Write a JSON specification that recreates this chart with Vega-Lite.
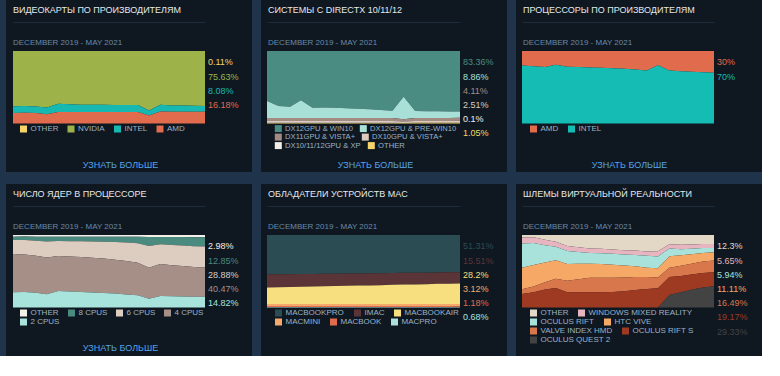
{
  "$schema": "https://vega.github.io/schema/vega-lite/v6.json",
  "background": "#1f344a",
  "padding": {"left": 6, "top": 0, "right": 0, "bottom": 0},
  "autosize": {"type": "pad"},
  "config": {
    "font": "Liberation Sans",
    "view": {"fill": "#0f1821", "stroke": null},
    "title": {"anchor": "start", "frame": "group", "orient": "top", "offset": -47, "dx": 7, "fontSize": 9, "fontWeight": "normal", "color": "#e4e8ec", "subtitleFontSize": 8, "subtitleColor": "#6b8aa8", "subtitlePadding": 24, "subtitleFont": "Liberation Sans"},
    "legend": {"orient": "none", "legendX": 13.5, "legendY": 125, "padding": 0, "direction": "horizontal", "symbolType": "square", "symbolSize": 49, "symbolStrokeWidth": 0, "symbolOpacity": 1, "labelFontSize": 8, "labelColor": "#9db2c6", "labelOffset": 3, "columnPadding": 9, "rowPadding": 1, "labelFont": "Liberation Sans"},
    "text": {"fontSize": 9}
  },
  "datasets": {
    "gpu": [
      {"m": "2019-12", "OTHER": 0.001, "NVIDIA": 0.762, "INTEL": 0.091, "AMD": 0.146},
      {"m": "2020-01", "OTHER": 0.001, "NVIDIA": 0.757, "INTEL": 0.094, "AMD": 0.148},
      {"m": "2020-02", "OTHER": 0.001, "NVIDIA": 0.764, "INTEL": 0.090, "AMD": 0.145},
      {"m": "2020-03", "OTHER": 0.001, "NVIDIA": 0.780, "INTEL": 0.091, "AMD": 0.128},
      {"m": "2020-04", "OTHER": 0.001, "NVIDIA": 0.727, "INTEL": 0.112, "AMD": 0.160},
      {"m": "2020-05", "OTHER": 0.001, "NVIDIA": 0.734, "INTEL": 0.105, "AMD": 0.160},
      {"m": "2020-06", "OTHER": 0.001, "NVIDIA": 0.739, "INTEL": 0.100, "AMD": 0.160},
      {"m": "2020-07", "OTHER": 0.001, "NVIDIA": 0.741, "INTEL": 0.098, "AMD": 0.160},
      {"m": "2020-08", "OTHER": 0.001, "NVIDIA": 0.742, "INTEL": 0.097, "AMD": 0.160},
      {"m": "2020-09", "OTHER": 0.001, "NVIDIA": 0.743, "INTEL": 0.096, "AMD": 0.160},
      {"m": "2020-10", "OTHER": 0.001, "NVIDIA": 0.743, "INTEL": 0.096, "AMD": 0.160},
      {"m": "2020-11", "OTHER": 0.001, "NVIDIA": 0.743, "INTEL": 0.096, "AMD": 0.160},
      {"m": "2020-12", "OTHER": 0.001, "NVIDIA": 0.821, "INTEL": 0.068, "AMD": 0.110},
      {"m": "2021-01", "OTHER": 0.001, "NVIDIA": 0.741, "INTEL": 0.094, "AMD": 0.164},
      {"m": "2021-02", "OTHER": 0.001, "NVIDIA": 0.749, "INTEL": 0.088, "AMD": 0.162},
      {"m": "2021-03", "OTHER": 0.001, "NVIDIA": 0.752, "INTEL": 0.085, "AMD": 0.162},
      {"m": "2021-04", "OTHER": 0.001, "NVIDIA": 0.755, "INTEL": 0.082, "AMD": 0.162},
      {"m": "2021-05", "OTHER": 0.0011, "NVIDIA": 0.7563, "INTEL": 0.0808, "AMD": 0.1618}
    ],
    "dx": [
      {"m": "2019-12", "DX12GPU & WIN10": 0.689, "DX12GPU & PRE-WIN10": 0.235, "DX11GPU & VISTA+": 0.042, "DX10GPU & VISTA+": 0.024, "DX10/11/12GPU & XP": 0.002, "OTHER": 0.008},
      {"m": "2020-01", "DX12GPU & WIN10": 0.759, "DX12GPU & PRE-WIN10": 0.165, "DX11GPU & VISTA+": 0.042, "DX10GPU & VISTA+": 0.024, "DX10/11/12GPU & XP": 0.002, "OTHER": 0.008},
      {"m": "2020-02", "DX12GPU & WIN10": 0.769, "DX12GPU & PRE-WIN10": 0.155, "DX11GPU & VISTA+": 0.042, "DX10GPU & VISTA+": 0.024, "DX10/11/12GPU & XP": 0.002, "OTHER": 0.008},
      {"m": "2020-03", "DX12GPU & WIN10": 0.679, "DX12GPU & PRE-WIN10": 0.245, "DX11GPU & VISTA+": 0.042, "DX10GPU & VISTA+": 0.024, "DX10/11/12GPU & XP": 0.002, "OTHER": 0.008},
      {"m": "2020-04", "DX12GPU & WIN10": 0.782, "DX12GPU & PRE-WIN10": 0.142, "DX11GPU & VISTA+": 0.042, "DX10GPU & VISTA+": 0.024, "DX10/11/12GPU & XP": 0.002, "OTHER": 0.008},
      {"m": "2020-05", "DX12GPU & WIN10": 0.779, "DX12GPU & PRE-WIN10": 0.145, "DX11GPU & VISTA+": 0.042, "DX10GPU & VISTA+": 0.024, "DX10/11/12GPU & XP": 0.002, "OTHER": 0.008},
      {"m": "2020-06", "DX12GPU & WIN10": 0.784, "DX12GPU & PRE-WIN10": 0.140, "DX11GPU & VISTA+": 0.042, "DX10GPU & VISTA+": 0.024, "DX10/11/12GPU & XP": 0.002, "OTHER": 0.008},
      {"m": "2020-07", "DX12GPU & WIN10": 0.789, "DX12GPU & PRE-WIN10": 0.135, "DX11GPU & VISTA+": 0.042, "DX10GPU & VISTA+": 0.024, "DX10/11/12GPU & XP": 0.002, "OTHER": 0.008},
      {"m": "2020-08", "DX12GPU & WIN10": 0.796, "DX12GPU & PRE-WIN10": 0.128, "DX11GPU & VISTA+": 0.042, "DX10GPU & VISTA+": 0.024, "DX10/11/12GPU & XP": 0.002, "OTHER": 0.008},
      {"m": "2020-09", "DX12GPU & WIN10": 0.804, "DX12GPU & PRE-WIN10": 0.120, "DX11GPU & VISTA+": 0.042, "DX10GPU & VISTA+": 0.024, "DX10/11/12GPU & XP": 0.002, "OTHER": 0.008},
      {"m": "2020-10", "DX12GPU & WIN10": 0.814, "DX12GPU & PRE-WIN10": 0.110, "DX11GPU & VISTA+": 0.042, "DX10GPU & VISTA+": 0.024, "DX10/11/12GPU & XP": 0.002, "OTHER": 0.008},
      {"m": "2020-11", "DX12GPU & WIN10": 0.824, "DX12GPU & PRE-WIN10": 0.100, "DX11GPU & VISTA+": 0.042, "DX10GPU & VISTA+": 0.024, "DX10/11/12GPU & XP": 0.002, "OTHER": 0.008},
      {"m": "2020-12", "DX12GPU & WIN10": 0.630, "DX12GPU & PRE-WIN10": 0.310, "DX11GPU & VISTA+": 0.033, "DX10GPU & VISTA+": 0.019, "DX10/11/12GPU & XP": 0.001, "OTHER": 0.007},
      {"m": "2021-01", "DX12GPU & WIN10": 0.828, "DX12GPU & PRE-WIN10": 0.095, "DX11GPU & VISTA+": 0.041, "DX10GPU & VISTA+": 0.025, "DX10/11/12GPU & XP": 0.001, "OTHER": 0.010},
      {"m": "2021-02", "DX12GPU & WIN10": 0.830, "DX12GPU & PRE-WIN10": 0.093, "DX11GPU & VISTA+": 0.041, "DX10GPU & VISTA+": 0.025, "DX10/11/12GPU & XP": 0.001, "OTHER": 0.010},
      {"m": "2021-03", "DX12GPU & WIN10": 0.832, "DX12GPU & PRE-WIN10": 0.091, "DX11GPU & VISTA+": 0.041, "DX10GPU & VISTA+": 0.025, "DX10/11/12GPU & XP": 0.001, "OTHER": 0.010},
      {"m": "2021-04", "DX12GPU & WIN10": 0.833, "DX12GPU & PRE-WIN10": 0.090, "DX11GPU & VISTA+": 0.041, "DX10GPU & VISTA+": 0.025, "DX10/11/12GPU & XP": 0.001, "OTHER": 0.010},
      {"m": "2021-05", "DX12GPU & WIN10": 0.8336, "DX12GPU & PRE-WIN10": 0.0886, "DX11GPU & VISTA+": 0.0411, "DX10GPU & VISTA+": 0.0251, "DX10/11/12GPU & XP": 0.001, "OTHER": 0.0105}
    ],
    "cpu": [
      {"m": "2019-12", "AMD": 0.200, "INTEL": 0.800},
      {"m": "2020-01", "AMD": 0.212, "INTEL": 0.788},
      {"m": "2020-02", "AMD": 0.222, "INTEL": 0.778},
      {"m": "2020-03", "AMD": 0.190, "INTEL": 0.810},
      {"m": "2020-04", "AMD": 0.218, "INTEL": 0.782},
      {"m": "2020-05", "AMD": 0.221, "INTEL": 0.779},
      {"m": "2020-06", "AMD": 0.226, "INTEL": 0.774},
      {"m": "2020-07", "AMD": 0.231, "INTEL": 0.769},
      {"m": "2020-08", "AMD": 0.237, "INTEL": 0.763},
      {"m": "2020-09", "AMD": 0.246, "INTEL": 0.754},
      {"m": "2020-10", "AMD": 0.255, "INTEL": 0.745},
      {"m": "2020-11", "AMD": 0.270, "INTEL": 0.730},
      {"m": "2020-12", "AMD": 0.195, "INTEL": 0.805},
      {"m": "2021-01", "AMD": 0.270, "INTEL": 0.730},
      {"m": "2021-02", "AMD": 0.280, "INTEL": 0.720},
      {"m": "2021-03", "AMD": 0.285, "INTEL": 0.715},
      {"m": "2021-04", "AMD": 0.292, "INTEL": 0.708},
      {"m": "2021-05", "AMD": 0.30, "INTEL": 0.70}
    ],
    "cores": [
      {"m": "2019-12", "OTHER": 0.023, "8 CPUS": 0.046, "6 CPUS": 0.194, "4 CPUS": 0.525, "2 CPUS": 0.212},
      {"m": "2020-01", "OTHER": 0.022, "8 CPUS": 0.048, "6 CPUS": 0.200, "4 CPUS": 0.515, "2 CPUS": 0.215},
      {"m": "2020-02", "OTHER": 0.024, "8 CPUS": 0.054, "6 CPUS": 0.208, "4 CPUS": 0.509, "2 CPUS": 0.205},
      {"m": "2020-03", "OTHER": 0.024, "8 CPUS": 0.065, "6 CPUS": 0.220, "4 CPUS": 0.507, "2 CPUS": 0.184},
      {"m": "2020-04", "OTHER": 0.023, "8 CPUS": 0.059, "6 CPUS": 0.208, "4 CPUS": 0.484, "2 CPUS": 0.226},
      {"m": "2020-05", "OTHER": 0.023, "8 CPUS": 0.062, "6 CPUS": 0.210, "4 CPUS": 0.485, "2 CPUS": 0.220},
      {"m": "2020-06", "OTHER": 0.023, "8 CPUS": 0.063, "6 CPUS": 0.218, "4 CPUS": 0.483, "2 CPUS": 0.213},
      {"m": "2020-07", "OTHER": 0.023, "8 CPUS": 0.065, "6 CPUS": 0.225, "4 CPUS": 0.480, "2 CPUS": 0.207},
      {"m": "2020-08", "OTHER": 0.023, "8 CPUS": 0.069, "6 CPUS": 0.233, "4 CPUS": 0.475, "2 CPUS": 0.200},
      {"m": "2020-09", "OTHER": 0.023, "8 CPUS": 0.075, "6 CPUS": 0.242, "4 CPUS": 0.468, "2 CPUS": 0.192},
      {"m": "2020-10", "OTHER": 0.024, "8 CPUS": 0.080, "6 CPUS": 0.255, "4 CPUS": 0.460, "2 CPUS": 0.181},
      {"m": "2020-11", "OTHER": 0.024, "8 CPUS": 0.090, "6 CPUS": 0.268, "4 CPUS": 0.448, "2 CPUS": 0.170},
      {"m": "2020-12", "OTHER": 0.027, "8 CPUS": 0.125, "6 CPUS": 0.300, "4 CPUS": 0.428, "2 CPUS": 0.120},
      {"m": "2021-01", "OTHER": 0.027, "8 CPUS": 0.099, "6 CPUS": 0.275, "4 CPUS": 0.439, "2 CPUS": 0.160},
      {"m": "2021-02", "OTHER": 0.027, "8 CPUS": 0.110, "6 CPUS": 0.279, "4 CPUS": 0.428, "2 CPUS": 0.156},
      {"m": "2021-03", "OTHER": 0.028, "8 CPUS": 0.118, "6 CPUS": 0.283, "4 CPUS": 0.418, "2 CPUS": 0.153},
      {"m": "2021-04", "OTHER": 0.030, "8 CPUS": 0.124, "6 CPUS": 0.286, "4 CPUS": 0.410, "2 CPUS": 0.150},
      {"m": "2021-05", "OTHER": 0.0298, "8 CPUS": 0.1285, "6 CPUS": 0.2888, "4 CPUS": 0.4047, "2 CPUS": 0.1482}
    ],
    "mac": [
      {"m": "2019-12", "MACBOOKPRO": 0.543, "IMAC": 0.180, "MACBOOKAIR": 0.230, "MACMINI": 0.026, "MACBOOK": 0.015, "MACPRO": 0.006},
      {"m": "2020-01", "MACBOOKPRO": 0.541, "IMAC": 0.179, "MACBOOKAIR": 0.233, "MACMINI": 0.026, "MACBOOK": 0.015, "MACPRO": 0.006},
      {"m": "2020-02", "MACBOOKPRO": 0.540, "IMAC": 0.177, "MACBOOKAIR": 0.236, "MACMINI": 0.027, "MACBOOK": 0.014, "MACPRO": 0.006},
      {"m": "2020-03", "MACBOOKPRO": 0.537, "IMAC": 0.176, "MACBOOKAIR": 0.240, "MACMINI": 0.027, "MACBOOK": 0.014, "MACPRO": 0.006},
      {"m": "2020-04", "MACBOOKPRO": 0.537, "IMAC": 0.174, "MACBOOKAIR": 0.242, "MACMINI": 0.027, "MACBOOK": 0.014, "MACPRO": 0.006},
      {"m": "2020-05", "MACBOOKPRO": 0.534, "IMAC": 0.173, "MACBOOKAIR": 0.245, "MACMINI": 0.028, "MACBOOK": 0.014, "MACPRO": 0.006},
      {"m": "2020-06", "MACBOOKPRO": 0.533, "IMAC": 0.171, "MACBOOKAIR": 0.248, "MACMINI": 0.028, "MACBOOK": 0.014, "MACPRO": 0.006},
      {"m": "2020-07", "MACBOOKPRO": 0.531, "IMAC": 0.170, "MACBOOKAIR": 0.251, "MACMINI": 0.028, "MACBOOK": 0.014, "MACPRO": 0.006},
      {"m": "2020-08", "MACBOOKPRO": 0.530, "IMAC": 0.168, "MACBOOKAIR": 0.254, "MACMINI": 0.029, "MACBOOK": 0.013, "MACPRO": 0.006},
      {"m": "2020-09", "MACBOOKPRO": 0.528, "IMAC": 0.167, "MACBOOKAIR": 0.257, "MACMINI": 0.029, "MACBOOK": 0.013, "MACPRO": 0.006},
      {"m": "2020-10", "MACBOOKPRO": 0.527, "IMAC": 0.165, "MACBOOKAIR": 0.260, "MACMINI": 0.029, "MACBOOK": 0.013, "MACPRO": 0.006},
      {"m": "2020-11", "MACBOOKPRO": 0.523, "IMAC": 0.164, "MACBOOKAIR": 0.263, "MACMINI": 0.030, "MACBOOK": 0.013, "MACPRO": 0.007},
      {"m": "2020-12", "MACBOOKPRO": 0.522, "IMAC": 0.162, "MACBOOKAIR": 0.266, "MACMINI": 0.030, "MACBOOK": 0.013, "MACPRO": 0.007},
      {"m": "2021-01", "MACBOOKPRO": 0.522, "IMAC": 0.160, "MACBOOKAIR": 0.269, "MACMINI": 0.030, "MACBOOK": 0.012, "MACPRO": 0.007},
      {"m": "2021-02", "MACBOOKPRO": 0.519, "IMAC": 0.159, "MACBOOKAIR": 0.272, "MACMINI": 0.031, "MACBOOK": 0.012, "MACPRO": 0.007},
      {"m": "2021-03", "MACBOOKPRO": 0.516, "IMAC": 0.158, "MACBOOKAIR": 0.276, "MACMINI": 0.031, "MACBOOK": 0.012, "MACPRO": 0.007},
      {"m": "2021-04", "MACBOOKPRO": 0.515, "IMAC": 0.156, "MACBOOKAIR": 0.279, "MACMINI": 0.031, "MACBOOK": 0.012, "MACPRO": 0.007},
      {"m": "2021-05", "MACBOOKPRO": 0.5131, "IMAC": 0.1551, "MACBOOKAIR": 0.282, "MACMINI": 0.0312, "MACBOOK": 0.0118, "MACPRO": 0.0068}
    ],
    "vr": [
      {"m": "2019-12", "OTHER": 0.033, "WINDOWS MIXED REALITY": 0.083, "OCULUS RIFT": 0.335, "HTC VIVE": 0.298, "VALVE INDEX HMD": 0.065, "OCULUS RIFT S": 0.186, "OCULUS QUEST 2": 0},
      {"m": "2020-01", "OTHER": 0.032, "WINDOWS MIXED REALITY": 0.078, "OCULUS RIFT": 0.305, "HTC VIVE": 0.295, "VALVE INDEX HMD": 0.080, "OCULUS RIFT S": 0.210, "OCULUS QUEST 2": 0},
      {"m": "2020-02", "OTHER": 0.065, "WINDOWS MIXED REALITY": 0.075, "OCULUS RIFT": 0.240, "HTC VIVE": 0.270, "VALVE INDEX HMD": 0.100, "OCULUS RIFT S": 0.250, "OCULUS QUEST 2": 0},
      {"m": "2020-03", "OTHER": 0.093, "WINDOWS MIXED REALITY": 0.070, "OCULUS RIFT": 0.186, "HTC VIVE": 0.256, "VALVE INDEX HMD": 0.125, "OCULUS RIFT S": 0.270, "OCULUS QUEST 2": 0},
      {"m": "2020-04", "OTHER": 0.150, "WINDOWS MIXED REALITY": 0.070, "OCULUS RIFT": 0.180, "HTC VIVE": 0.230, "VALVE INDEX HMD": 0.160, "OCULUS RIFT S": 0.210, "OCULUS QUEST 2": 0},
      {"m": "2020-05", "OTHER": 0.170, "WINDOWS MIXED REALITY": 0.066, "OCULUS RIFT": 0.160, "HTC VIVE": 0.215, "VALVE INDEX HMD": 0.180, "OCULUS RIFT S": 0.209, "OCULUS QUEST 2": 0},
      {"m": "2020-06", "OTHER": 0.186, "WINDOWS MIXED REALITY": 0.061, "OCULUS RIFT": 0.148, "HTC VIVE": 0.196, "VALVE INDEX HMD": 0.200, "OCULUS RIFT S": 0.209, "OCULUS QUEST 2": 0},
      {"m": "2020-07", "OTHER": 0.190, "WINDOWS MIXED REALITY": 0.060, "OCULUS RIFT": 0.150, "HTC VIVE": 0.190, "VALVE INDEX HMD": 0.200, "OCULUS RIFT S": 0.210, "OCULUS QUEST 2": 0},
      {"m": "2020-08", "OTHER": 0.200, "WINDOWS MIXED REALITY": 0.060, "OCULUS RIFT": 0.150, "HTC VIVE": 0.180, "VALVE INDEX HMD": 0.195, "OCULUS RIFT S": 0.215, "OCULUS QUEST 2": 0},
      {"m": "2020-09", "OTHER": 0.210, "WINDOWS MIXED REALITY": 0.060, "OCULUS RIFT": 0.150, "HTC VIVE": 0.165, "VALVE INDEX HMD": 0.190, "OCULUS RIFT S": 0.225, "OCULUS QUEST 2": 0},
      {"m": "2020-10", "OTHER": 0.215, "WINDOWS MIXED REALITY": 0.060, "OCULUS RIFT": 0.155, "HTC VIVE": 0.150, "VALVE INDEX HMD": 0.180, "OCULUS RIFT S": 0.240, "OCULUS QUEST 2": 0},
      {"m": "2020-11", "OTHER": 0.226, "WINDOWS MIXED REALITY": 0.060, "OCULUS RIFT": 0.165, "HTC VIVE": 0.130, "VALVE INDEX HMD": 0.163, "OCULUS RIFT S": 0.256, "OCULUS QUEST 2": 0},
      {"m": "2020-12", "OTHER": 0.225, "WINDOWS MIXED REALITY": 0.070, "OCULUS RIFT": 0.165, "HTC VIVE": 0.125, "VALVE INDEX HMD": 0.150, "OCULUS RIFT S": 0.265, "OCULUS QUEST 2": 0},
      {"m": "2021-01", "OTHER": 0.126, "WINDOWS MIXED REALITY": 0.060, "OCULUS RIFT": 0.107, "HTC VIVE": 0.158, "VALVE INDEX HMD": 0.130, "OCULUS RIFT S": 0.247, "OCULUS QUEST 2": 0.172},
      {"m": "2021-02", "OTHER": 0.135, "WINDOWS MIXED REALITY": 0.060, "OCULUS RIFT": 0.085, "HTC VIVE": 0.145, "VALVE INDEX HMD": 0.140, "OCULUS RIFT S": 0.225, "OCULUS QUEST 2": 0.210},
      {"m": "2021-03", "OTHER": 0.132, "WINDOWS MIXED REALITY": 0.058, "OCULUS RIFT": 0.075, "HTC VIVE": 0.130, "VALVE INDEX HMD": 0.150, "OCULUS RIFT S": 0.210, "OCULUS QUEST 2": 0.245},
      {"m": "2021-04", "OTHER": 0.124, "WINDOWS MIXED REALITY": 0.057, "OCULUS RIFT": 0.066, "HTC VIVE": 0.120, "VALVE INDEX HMD": 0.158, "OCULUS RIFT S": 0.200, "OCULUS QUEST 2": 0.275},
      {"m": "2021-05", "OTHER": 0.123, "WINDOWS MIXED REALITY": 0.0565, "OCULUS RIFT": 0.0594, "HTC VIVE": 0.1111, "VALVE INDEX HMD": 0.1649, "OCULUS RIFT S": 0.1917, "OCULUS QUEST 2": 0.2933}
    ]
  },
  "columns": 3,
  "spacing": {"row": 12, "column": 9},
  "bounds": "flush",
  "resolve": {"scale": {"color": "independent", "x": "independent", "y": "independent"}, "legend": {"color": "independent"}},
  "concat": [
    {
      "width": 246, "height": 172,
      "view": {"fill": "#0f1821", "stroke": null},
      "title": {"text": "ВИДЕОКАРТЫ ПО ПРОИЗВОДИТЕЛЯМ", "subtitle": "DECEMBER 2019 - MAY 2021"},
      "data": {"name": "gpu"},
      "transform": [
        {"fold": ["OTHER", "NVIDIA", "INTEL", "AMD"], "as": ["key", "value"]},
        {"calculate": "indexof(['OTHER','NVIDIA','INTEL','AMD'], datum.key)", "as": "k"}
      ],
      "resolve": {"scale": {"y": "independent"}, "axis": {"y": "independent"}},
      "layer": [
        {
          "mark": {"type": "area", "interpolate": "linear"},
          "encoding": {
            "x": {"field": "m", "type": "temporal", "scale": {"range": [7, 199], "nice": false},
                  "axis": {"title": "УЗНАТЬ БОЛЬШЕ", "labels": false, "ticks": false, "domain": false, "grid": false, "titleX": 114, "titleY": -8, "titleAlign": "center", "titleBaseline": "middle", "titleColor": "#56a3e6", "titleFontSize": 9, "titleFontWeight": "normal", "titleFont": "Liberation Sans"}},
            "y": {"field": "value", "type": "quantitative", "stack": "normalize", "scale": {"domain": [0, 1.4069], "range": [123.5, 21.5], "nice": false},
                  "axis": {"values": [1.4069], "grid": true, "gridColor": "#1d2c3b", "labels": false, "ticks": false, "domain": false, "title": null}},
            "color": {"field": "key", "type": "nominal", "scale": {"domain": ["OTHER", "NVIDIA", "INTEL", "AMD"], "range": ["#f6d46a", "#9db34a", "#17b8b1", "#e06b4d"]}, "legend": {"title": null, "columnPadding": 8.5}},
            "order": {"field": "k", "sort": "descending"}
          }
        },
        {
          "transform": [{"joinaggregate": [{"op": "max", "field": "m", "as": "mx"}]}, {"filter": "time(datum.m) == time(datum.mx)"}],
          "mark": {"type": "text", "align": "left", "baseline": "middle", "dx": 3, "fontSize": 9},
          "encoding": {
            "x": {"field": "m", "type": "temporal"},
            "y": {"field": "key", "type": "nominal", "scale": {"domain": ["OTHER", "NVIDIA", "INTEL", "AMD"], "range": [62.3, 104.9], "padding": 0}, "axis": null},
            "text": {"field": "value", "format": ".2~%"},
            "color": {"field": "key", "type": "nominal", "scale": {"domain": ["OTHER", "NVIDIA", "INTEL", "AMD"], "range": ["#f6d46a", "#9db34a", "#17b8b1", "#e06b4d"]}, "legend": null}
          }
        }
      ]
    },
    {
      "width": 246, "height": 172,
      "view": {"fill": "#0f1821", "stroke": null},
      "title": {"text": "СИСТЕМЫ С DIRECTX 10/11/12", "subtitle": "DECEMBER 2019 - MAY 2021"},
      "data": {"name": "dx"},
      "transform": [
        {"fold": ["DX12GPU & WIN10", "DX12GPU & PRE-WIN10", "DX11GPU & VISTA+", "DX10GPU & VISTA+", "DX10/11/12GPU & XP", "OTHER"], "as": ["key", "value"]},
        {"calculate": "indexof(['DX12GPU & WIN10','DX12GPU & PRE-WIN10','DX11GPU & VISTA+','DX10GPU & VISTA+','DX10/11/12GPU & XP','OTHER'], datum.key)", "as": "k"}
      ],
      "resolve": {"scale": {"y": "independent", "color": "independent"}, "axis": {"y": "independent"}, "legend": {"color": "independent"}},
      "layer": [
        {
          "mark": {"type": "area", "interpolate": "linear"},
          "encoding": {
            "x": {"field": "m", "type": "temporal", "scale": {"range": [6, 199], "nice": false},
                  "axis": {"title": "УЗНАТЬ БОЛЬШЕ", "labels": false, "ticks": false, "domain": false, "grid": false, "titleX": 114, "titleY": -8, "titleAlign": "center", "titleBaseline": "middle", "titleColor": "#56a3e6", "titleFontSize": 9, "titleFontWeight": "normal", "titleFont": "Liberation Sans"}},
            "y": {"field": "value", "type": "quantitative", "stack": "normalize", "scale": {"domain": [0, 1.4069], "range": [123.5, 21.5], "nice": false},
                  "axis": {"values": [1.4069], "grid": true, "gridColor": "#1d2c3b", "labels": false, "ticks": false, "domain": false, "title": null}},
            "color": {"field": "key", "type": "nominal", "scale": {"domain": ["DX12GPU & WIN10", "DX12GPU & PRE-WIN10", "DX11GPU & VISTA+", "DX10GPU & VISTA+", "DX10/11/12GPU & XP", "OTHER"], "range": ["#4b8c82", "#a8e0d8", "#a38b84", "#dccbbf", "#f3eee8", "#f6d46a"]}, "legend": null},
            "order": {"field": "k", "sort": "descending"}
          }
        },
        {
          "transform": [{"joinaggregate": [{"op": "max", "field": "m", "as": "mx"}]}, {"filter": "time(datum.m) == time(datum.mx)"}],
          "mark": {"type": "text", "align": "left", "baseline": "middle", "dx": 3, "fontSize": 9},
          "encoding": {
            "x": {"field": "m", "type": "temporal"},
            "y": {"field": "key", "type": "nominal", "scale": {"domain": ["DX12GPU & WIN10", "DX12GPU & PRE-WIN10", "DX11GPU & VISTA+", "DX10GPU & VISTA+", "DX10/11/12GPU & XP", "OTHER"], "range": [62.3, 133.3], "padding": 0}, "axis": null},
            "text": {"field": "value", "format": ".2~%"},
            "color": {"field": "key", "type": "nominal", "scale": {"domain": ["DX12GPU & WIN10", "DX12GPU & PRE-WIN10", "DX11GPU & VISTA+", "DX10GPU & VISTA+", "DX10/11/12GPU & XP", "OTHER"], "range": ["#4b8c82", "#a8e0d8", "#a38b84", "#dccbbf", "#f3eee8", "#f6d46a"]}, "legend": null}
          }
        },
        {
          "transform": [{"filter": "false"}],
          "mark": {"type": "area"},
          "encoding": {"x": {"field": "m", "type": "temporal"}, "y": {"field": "value", "type": "quantitative", "axis": null}, "color": {"field": "key", "type": "nominal", "scale": {"domain": ["DX12GPU & WIN10", "DX12GPU & PRE-WIN10"], "range": ["#4b8c82", "#a8e0d8"]}, "legend": {"title": null, "legendY": 124.5, "labelFontSize": 7.6, "columnPadding": 6}}}
        },
        {
          "transform": [{"filter": "false"}],
          "mark": {"type": "area"},
          "encoding": {"x": {"field": "m", "type": "temporal"}, "y": {"field": "value", "type": "quantitative", "axis": null}, "color": {"field": "key", "type": "nominal", "scale": {"domain": ["DX11GPU & VISTA+", "DX10GPU & VISTA+"], "range": ["#a38b84", "#dccbbf"]}, "legend": {"title": null, "legendY": 133, "labelFontSize": 7.6, "columnPadding": 6}}}
        },
        {
          "transform": [{"filter": "false"}],
          "mark": {"type": "area"},
          "encoding": {"x": {"field": "m", "type": "temporal"}, "y": {"field": "value", "type": "quantitative", "axis": null}, "color": {"field": "key", "type": "nominal", "scale": {"domain": ["DX10/11/12GPU & XP", "OTHER"], "range": ["#f3eee8", "#f6d46a"]}, "legend": {"title": null, "legendY": 141.5, "labelFontSize": 7.6, "columnPadding": 6}}}
        }
      ]
    },
    {
      "width": 246, "height": 172,
      "view": {"fill": "#0f1821", "stroke": null},
      "title": {"text": "ПРОЦЕССОРЫ ПО ПРОИЗВОДИТЕЛЯМ", "subtitle": "DECEMBER 2019 - MAY 2021"},
      "data": {"name": "cpu"},
      "transform": [
        {"fold": ["AMD", "INTEL"], "as": ["key", "value"]},
        {"calculate": "indexof(['AMD','INTEL'], datum.key)", "as": "k"}
      ],
      "resolve": {"scale": {"y": "independent"}, "axis": {"y": "independent"}},
      "layer": [
        {
          "mark": {"type": "area", "interpolate": "linear"},
          "encoding": {
            "x": {"field": "m", "type": "temporal", "scale": {"range": [6, 198], "nice": false},
                  "axis": {"title": "УЗНАТЬ БОЛЬШЕ", "labels": false, "ticks": false, "domain": false, "grid": false, "titleX": 113, "titleY": -8, "titleAlign": "center", "titleBaseline": "middle", "titleColor": "#56a3e6", "titleFontSize": 9, "titleFontWeight": "normal", "titleFont": "Liberation Sans"}},
            "y": {"field": "value", "type": "quantitative", "stack": "normalize", "scale": {"domain": [0, 1.4069], "range": [123.5, 21.5], "nice": false},
                  "axis": {"values": [1.4069], "grid": true, "gridColor": "#1d2c3b", "labels": false, "ticks": false, "domain": false, "title": null}},
            "color": {"field": "key", "type": "nominal", "scale": {"domain": ["AMD", "INTEL"], "range": ["#e06b4d", "#14bcb3"]}, "legend": {"title": null}},
            "order": {"field": "k", "sort": "descending"}
          }
        },
        {
          "transform": [{"joinaggregate": [{"op": "max", "field": "m", "as": "mx"}]}, {"filter": "time(datum.m) == time(datum.mx)"}],
          "mark": {"type": "text", "align": "left", "baseline": "middle", "dx": 3, "fontSize": 9},
          "encoding": {
            "x": {"field": "m", "type": "temporal"},
            "y": {"field": "key", "type": "nominal", "scale": {"domain": ["AMD", "INTEL"], "range": [62.3, 76.5], "padding": 0}, "axis": null},
            "text": {"field": "value", "format": ".2~%"},
            "color": {"field": "key", "type": "nominal", "scale": {"domain": ["AMD", "INTEL"], "range": ["#e06b4d", "#14bcb3"]}, "legend": null}
          }
        }
      ]
    },
    {
      "width": 246, "height": 172,
      "view": {"fill": "#0f1821", "stroke": null},
      "title": {"text": "ЧИСЛО ЯДЕР В ПРОЦЕССОРЕ", "subtitle": "DECEMBER 2019 - MAY 2021"},
      "data": {"name": "cores"},
      "transform": [
        {"fold": ["OTHER", "8 CPUS", "6 CPUS", "4 CPUS", "2 CPUS"], "as": ["key", "value"]},
        {"calculate": "indexof(['OTHER','8 CPUS','6 CPUS','4 CPUS','2 CPUS'], datum.key)", "as": "k"}
      ],
      "resolve": {"scale": {"y": "independent"}, "axis": {"y": "independent"}},
      "layer": [
        {
          "mark": {"type": "area", "interpolate": "linear"},
          "encoding": {
            "x": {"field": "m", "type": "temporal", "scale": {"range": [7, 199], "nice": false},
                  "axis": {"title": "УЗНАТЬ БОЛЬШЕ", "labels": false, "ticks": false, "domain": false, "grid": false, "titleX": 114, "titleY": -9, "titleAlign": "center", "titleBaseline": "middle", "titleColor": "#56a3e6", "titleFontSize": 9, "titleFontWeight": "normal", "titleFont": "Liberation Sans"}},
            "y": {"field": "value", "type": "quantitative", "stack": "normalize", "scale": {"domain": [0, 1.4069], "range": [123.5, 21.5], "nice": false},
                  "axis": {"values": [1.4069], "grid": true, "gridColor": "#1d2c3b", "labels": false, "ticks": false, "domain": false, "title": null}},
            "color": {"field": "key", "type": "nominal", "scale": {"domain": ["OTHER", "8 CPUS", "6 CPUS", "4 CPUS", "2 CPUS"], "range": ["#f3efe9", "#4b8a7f", "#ddcdc1", "#a68f87", "#a8e3dc"]}, "legend": {"title": null, "columns": 4, "columnPadding": 8}},
            "order": {"field": "k", "sort": "descending"}
          }
        },
        {
          "transform": [{"joinaggregate": [{"op": "max", "field": "m", "as": "mx"}]}, {"filter": "time(datum.m) == time(datum.mx)"}],
          "mark": {"type": "text", "align": "left", "baseline": "middle", "dx": 3, "fontSize": 9},
          "encoding": {
            "x": {"field": "m", "type": "temporal"},
            "y": {"field": "key", "type": "nominal", "scale": {"domain": ["OTHER", "8 CPUS", "6 CPUS", "4 CPUS", "2 CPUS"], "range": [62.3, 119.1], "padding": 0}, "axis": null},
            "text": {"field": "value", "format": ".2~%"},
            "color": {"field": "key", "type": "nominal", "scale": {"domain": ["OTHER", "8 CPUS", "6 CPUS", "4 CPUS", "2 CPUS"], "range": ["#f3efe9", "#4b8a7f", "#ddcdc1", "#a68f87", "#a8e3dc"]}, "legend": null}
          }
        }
      ]
    },
    {
      "width": 246, "height": 172,
      "view": {"fill": "#0f1821", "stroke": null},
      "title": {"text": "ОБЛАДАТЕЛИ УСТРОЙСТВ MAC", "subtitle": "DECEMBER 2019 - MAY 2021"},
      "data": {"name": "mac"},
      "transform": [
        {"fold": ["MACBOOKPRO", "IMAC", "MACBOOKAIR", "MACMINI", "MACBOOK", "MACPRO"], "as": ["key", "value"]},
        {"calculate": "indexof(['MACBOOKPRO','IMAC','MACBOOKAIR','MACMINI','MACBOOK','MACPRO'], datum.key)", "as": "k"}
      ],
      "resolve": {"scale": {"y": "independent", "color": "independent"}, "axis": {"y": "independent"}, "legend": {"color": "independent"}},
      "layer": [
        {
          "mark": {"type": "area", "interpolate": "linear"},
          "encoding": {
            "x": {"field": "m", "type": "temporal", "scale": {"range": [6, 199], "nice": false}, "axis": null},
            "y": {"field": "value", "type": "quantitative", "stack": "normalize", "scale": {"domain": [0, 1.4069], "range": [123.5, 21.5], "nice": false},
                  "axis": {"values": [1.4069], "grid": true, "gridColor": "#1d2c3b", "labels": false, "ticks": false, "domain": false, "title": null}},
            "color": {"field": "key", "type": "nominal", "scale": {"domain": ["MACBOOKPRO", "IMAC", "MACBOOKAIR", "MACMINI", "MACBOOK", "MACPRO"], "range": ["#2c4c53", "#5b3438", "#f7df7f", "#f5aa6c", "#e06b4d", "#ace2db"]}, "legend": null},
            "order": {"field": "k", "sort": "descending"}
          }
        },
        {
          "transform": [{"joinaggregate": [{"op": "max", "field": "m", "as": "mx"}]}, {"filter": "time(datum.m) == time(datum.mx)"}],
          "mark": {"type": "text", "align": "left", "baseline": "middle", "dx": 3, "fontSize": 9},
          "encoding": {
            "x": {"field": "m", "type": "temporal"},
            "y": {"field": "key", "type": "nominal", "scale": {"domain": ["MACBOOKPRO", "IMAC", "MACBOOKAIR", "MACMINI", "MACBOOK", "MACPRO"], "range": [62.3, 133.3], "padding": 0}, "axis": null},
            "text": {"field": "value", "format": ".2~%"},
            "color": {"field": "key", "type": "nominal", "scale": {"domain": ["MACBOOKPRO", "IMAC", "MACBOOKAIR", "MACMINI", "MACBOOK", "MACPRO"], "range": ["#2c4c53", "#5b3438", "#f7df7f", "#f5aa6c", "#e06b4d", "#ace2db"]}, "legend": null}
          }
        },
        {
          "transform": [{"filter": "false"}],
          "mark": {"type": "area"},
          "encoding": {"x": {"field": "m", "type": "temporal"}, "y": {"field": "value", "type": "quantitative", "axis": null}, "color": {"field": "key", "type": "nominal", "scale": {"domain": ["MACBOOKPRO", "IMAC", "MACBOOKAIR"], "range": ["#2c4c53", "#5b3438", "#f7df7f"]}, "legend": {"title": null, "legendY": 125}}}
        },
        {
          "transform": [{"filter": "false"}],
          "mark": {"type": "area"},
          "encoding": {"x": {"field": "m", "type": "temporal"}, "y": {"field": "value", "type": "quantitative", "axis": null}, "color": {"field": "key", "type": "nominal", "scale": {"domain": ["MACMINI", "MACBOOK", "MACPRO"], "range": ["#f5aa6c", "#e06b4d", "#ace2db"]}, "legend": {"title": null, "legendY": 134}}}
        }
      ]
    },
    {
      "width": 246, "height": 172,
      "view": {"fill": "#0f1821", "stroke": null},
      "title": {"text": "ШЛЕМЫ ВИРТУАЛЬНОЙ РЕАЛЬНОСТИ", "subtitle": "DECEMBER 2019 - MAY 2021"},
      "data": {"name": "vr"},
      "transform": [
        {"fold": ["OTHER", "WINDOWS MIXED REALITY", "OCULUS RIFT", "HTC VIVE", "VALVE INDEX HMD", "OCULUS RIFT S", "OCULUS QUEST 2"], "as": ["key", "value"]},
        {"calculate": "indexof(['OTHER','WINDOWS MIXED REALITY','OCULUS RIFT','HTC VIVE','VALVE INDEX HMD','OCULUS RIFT S','OCULUS QUEST 2'], datum.key)", "as": "k"}
      ],
      "resolve": {"scale": {"y": "independent", "color": "independent"}, "axis": {"y": "independent"}, "legend": {"color": "independent"}},
      "layer": [
        {
          "mark": {"type": "area", "interpolate": "linear"},
          "encoding": {
            "x": {"field": "m", "type": "temporal", "scale": {"range": [6, 198], "nice": false}, "axis": null},
            "y": {"field": "value", "type": "quantitative", "stack": "normalize", "scale": {"domain": [0, 1.4069], "range": [123.5, 21.5], "nice": false},
                  "axis": {"values": [1.4069], "grid": true, "gridColor": "#1d2c3b", "labels": false, "ticks": false, "domain": false, "title": null}},
            "color": {"field": "key", "type": "nominal", "scale": {"domain": ["OTHER", "WINDOWS MIXED REALITY", "OCULUS RIFT", "HTC VIVE", "VALVE INDEX HMD", "OCULUS RIFT S", "OCULUS QUEST 2"], "range": ["#e3d7c5", "#e6b5bf", "#a8e2db", "#f6a866", "#d8774b", "#9e3a22", "#434343"]}, "legend": null},
            "order": {"field": "k", "sort": "descending"}
          }
        },
        {
          "transform": [{"joinaggregate": [{"op": "max", "field": "m", "as": "mx"}]}, {"filter": "time(datum.m) == time(datum.mx)"}],
          "mark": {"type": "text", "align": "left", "baseline": "middle", "dx": 3, "fontSize": 9},
          "encoding": {
            "x": {"field": "m", "type": "temporal"},
            "y": {"field": "key", "type": "nominal", "scale": {"domain": ["OTHER", "WINDOWS MIXED REALITY", "OCULUS RIFT", "HTC VIVE", "VALVE INDEX HMD", "OCULUS RIFT S", "OCULUS QUEST 2"], "range": [62.3, 147.5], "padding": 0}, "axis": null},
            "text": {"field": "value", "format": ".2~%"},
            "color": {"field": "key", "type": "nominal", "scale": {"domain": ["OTHER", "WINDOWS MIXED REALITY", "OCULUS RIFT", "HTC VIVE", "VALVE INDEX HMD", "OCULUS RIFT S", "OCULUS QUEST 2"], "range": ["#e3d7c5", "#e6b5bf", "#a8e2db", "#f6a866", "#d8774b", "#9e3a22", "#434343"]}, "legend": null}
          }
        },
        {
          "transform": [{"filter": "false"}],
          "mark": {"type": "area"},
          "encoding": {"x": {"field": "m", "type": "temporal"}, "y": {"field": "value", "type": "quantitative", "axis": null}, "color": {"field": "key", "type": "nominal", "scale": {"domain": ["OTHER", "WINDOWS MIXED REALITY"], "range": ["#e3d7c5", "#e6b5bf"]}, "legend": {"title": null, "legendY": 125}}}
        },
        {
          "transform": [{"filter": "false"}],
          "mark": {"type": "area"},
          "encoding": {"x": {"field": "m", "type": "temporal"}, "y": {"field": "value", "type": "quantitative", "axis": null}, "color": {"field": "key", "type": "nominal", "scale": {"domain": ["OCULUS RIFT", "HTC VIVE"], "range": ["#a8e2db", "#f6a866"]}, "legend": {"title": null, "legendY": 134}}}
        },
        {
          "transform": [{"filter": "false"}],
          "mark": {"type": "area"},
          "encoding": {"x": {"field": "m", "type": "temporal"}, "y": {"field": "value", "type": "quantitative", "axis": null}, "color": {"field": "key", "type": "nominal", "scale": {"domain": ["VALVE INDEX HMD", "OCULUS RIFT S"], "range": ["#d8774b", "#9e3a22"]}, "legend": {"title": null, "legendY": 143}}}
        },
        {
          "transform": [{"filter": "false"}],
          "mark": {"type": "area"},
          "encoding": {"x": {"field": "m", "type": "temporal"}, "y": {"field": "value", "type": "quantitative", "axis": null}, "color": {"field": "key", "type": "nominal", "scale": {"domain": ["OCULUS QUEST 2"], "range": ["#434343"]}, "legend": {"title": null, "legendY": 152}}}
        }
      ]
    }
  ]
}
